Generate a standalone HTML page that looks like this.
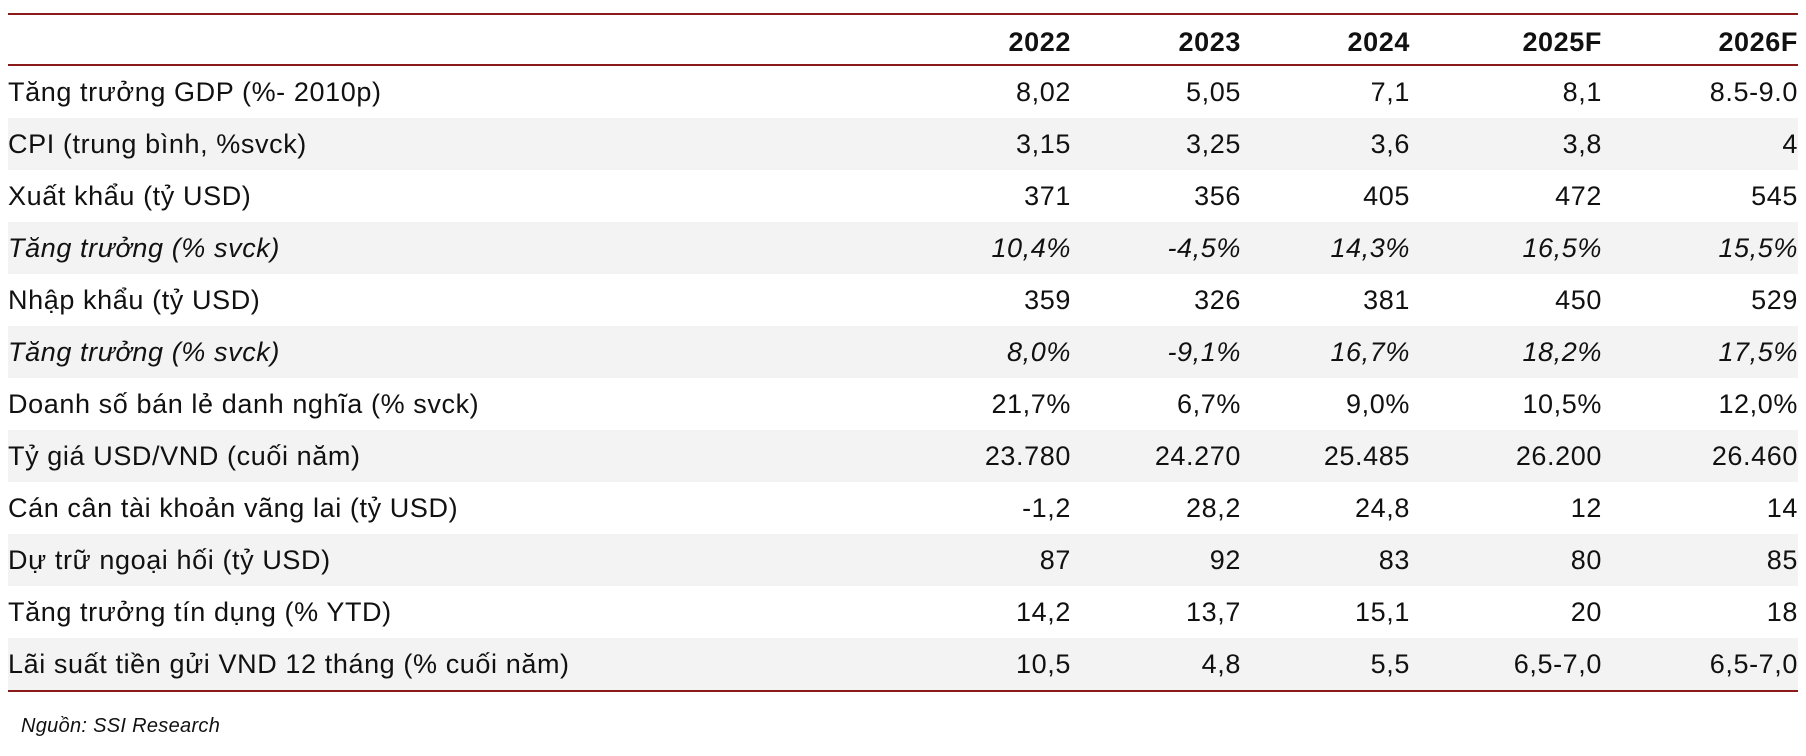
<!DOCTYPE html>
<html><head><meta charset="utf-8"><style>
body{margin:0;width:1806px;height:756px;background:#fff;font-family:"Liberation Sans",Arial,sans-serif;color:#111;position:relative;overflow:hidden}
table{position:absolute;left:8px;top:13px;width:1790px;border-collapse:collapse;font-size:27px;letter-spacing:0.6px}
thead tr{height:51px;border-top:2px solid #8b1a1a;border-bottom:2px solid #8b1a1a}
th{font-weight:bold;text-align:right;padding:6px 0 0 0}
td{height:52px;padding:0;text-align:right}
td:first-child{text-align:left;padding-left:0}
tbody tr:nth-child(even){background:#f3f3f3}
tbody tr:last-child{border-bottom:2px solid #8b1a1a}
tr.i td{font-style:italic}
.src{position:absolute;left:21px;top:715px;font-size:20px;font-style:italic;letter-spacing:0.3px}
</style></head><body>
<table>
<colgroup><col style="width:895px"><col style="width:168px"><col style="width:170px"><col style="width:169px"><col style="width:192px"><col style="width:196px"></colgroup>
<thead><tr><th></th><th>2022</th><th>2023</th><th>2024</th><th>2025F</th><th>2026F</th></tr></thead>
<tbody>
<tr><td>Tăng trưởng GDP (%- 2010p)</td><td>8,02</td><td>5,05</td><td>7,1</td><td>8,1</td><td>8.5-9.0</td></tr>
<tr><td>CPI (trung bình, %svck)</td><td>3,15</td><td>3,25</td><td>3,6</td><td>3,8</td><td>4</td></tr>
<tr><td>Xuất khẩu (tỷ USD)</td><td>371</td><td>356</td><td>405</td><td>472</td><td>545</td></tr>
<tr class="i"><td>Tăng trưởng (% svck)</td><td>10,4%</td><td>-4,5%</td><td>14,3%</td><td>16,5%</td><td>15,5%</td></tr>
<tr><td>Nhập khẩu (tỷ USD)</td><td>359</td><td>326</td><td>381</td><td>450</td><td>529</td></tr>
<tr class="i"><td>Tăng trưởng (% svck)</td><td>8,0%</td><td>-9,1%</td><td>16,7%</td><td>18,2%</td><td>17,5%</td></tr>
<tr><td>Doanh số bán lẻ danh nghĩa (% svck)</td><td>21,7%</td><td>6,7%</td><td>9,0%</td><td>10,5%</td><td>12,0%</td></tr>
<tr><td>Tỷ giá USD/VND (cuối năm)</td><td>23.780</td><td>24.270</td><td>25.485</td><td>26.200</td><td>26.460</td></tr>
<tr><td>Cán cân tài khoản vãng lai (tỷ USD)</td><td>-1,2</td><td>28,2</td><td>24,8</td><td>12</td><td>14</td></tr>
<tr><td>Dự trữ ngoại hối (tỷ USD)</td><td>87</td><td>92</td><td>83</td><td>80</td><td>85</td></tr>
<tr><td>Tăng trưởng tín dụng (% YTD)</td><td>14,2</td><td>13,7</td><td>15,1</td><td>20</td><td>18</td></tr>
<tr><td>Lãi suất tiền gửi VND 12 tháng (% cuối năm)</td><td>10,5</td><td>4,8</td><td>5,5</td><td>6,5-7,0</td><td>6,5-7,0</td></tr>
</tbody></table>
<div class="src">Nguồn: SSI Research</div>
</body></html>
